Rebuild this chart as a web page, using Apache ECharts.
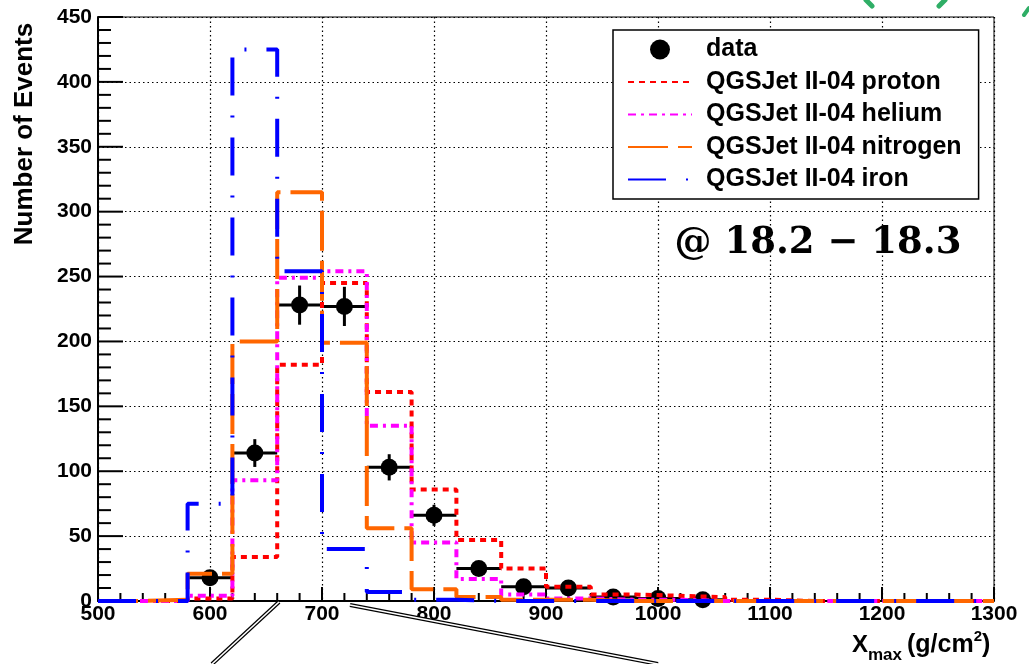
<!DOCTYPE html>
<html><head><meta charset="utf-8">
<script src="https://cdn.jsdelivr.net/npm/echarts@6/dist/echarts.min.js"></script>
<style>html,body{margin:0;padding:0;background:#fff}#c{width:1029px;height:664px}</style>
</head><body><div id="c"></div>
<script>
// bin lower edges (width 40 g/cm^2), last edge 1300
const binLow = [500,540,580,620,660,700,740,780,820,860,900,940,980,1020,1060,1100,1140,1180,1220,1260];
const binHigh = 1300;
const proton   = [0,0,2,34,182,245,161,86,47,25,11,5,4,3,1,0,0,0,0,0];
const helium   = [0,0,4,93,249,254,135,45,17,5,2,1,1,0,0,0,0,0,0,0];
const nitrogen = [0,1,21,200,315,199,56,9,3,1,1,0,0,0,0,0,0,0,0,0];
const iron     = [0,0,75,425,254,40,7,1,0,0,0,0,0,0,0,0,0,0,0,0];
const dataX   = [600,640,680,720,760,800,840,880,920,960,1000,1040];
const dataY   = [18,114,228,227,103,66,25,11,10,3,2,1];
const dataErr = [4.2,10.7,15.1,15.1,10.1,8.1,5,3.3,3.2,1.7,1.4,1];
const binHalf = 20;
const names = ['data','QGSJet II-04 proton','QGSJet II-04 helium','QGSJet II-04 nitrogen','QGSJet II-04 iron'];
// axis tick values
const xMajor = [500,600,700,800,900,1000,1100,1200,1300];
const yMajor = [0,50,100,150,200,250,300,350,400,450];
const xMinorStep = 20, yMinorStep = 10;

const FONT = "'Liberation Sans', Arial, Helvetica, sans-serif";
function hist(vals){
  const d = binLow.map((x,i)=>[x, vals[i]]);
  d.push([binHigh, vals[vals.length-1]]);
  return d;
}
function histSeries(name, vals, color, dash){
  return {name, type:'line', step:'end', data:hist(vals), symbol:'none', showSymbol:false,
    z:3, lineStyle:{color, width:4, type:dash}, itemStyle:{color}};
}
// tick list: [xValue, yValue, isMajor, isXAxis]
const tickData = [];
for (let v = xMajor[0]; v <= xMajor[xMajor.length-1]; v += xMinorStep) tickData.push([v, yMajor[0], xMajor.indexOf(v) >= 0 ? 1 : 0, 1]);
for (let v = yMajor[0]; v <= yMajor[yMajor.length-1]; v += yMinorStep) tickData.push([xMajor[0], v, yMajor.indexOf(v) >= 0 ? 1 : 0, 0]);

const labelFmt = v => String(v);
const mctx = document.createElement('canvas').getContext('2d');
function tw(t, size){ mctx.font = 'bold ' + size + 'px ' + FONT; return mctx.measureText(t).width; }
const tMax = 868, tParen = 907;
const wParen = tw('(g/cm', 25);
const w2 = tw('2', 15);

const chart = echarts.init(document.getElementById('c'), null, {renderer:'canvas'});
const option = {
  animation:false,
  backgroundColor:'#fff',
  grid:{left:98, right:35, top:17, bottom:63, show:true, borderColor:'#000', borderWidth:1, backgroundColor:'transparent'},
  xAxis:{type:'value', min:500, max:1300, interval:100,
    axisLine:{show:true, lineStyle:{color:'#000', width:2}},
    axisTick:{show:false},
    splitLine:{show:true, lineStyle:{color:'#000', width:1.2, type:[1.5,3]}},
    axisLabel:{fontSize:21, fontWeight:'bold', color:'#000', fontFamily:FONT, margin:3, formatter:labelFmt}},
  yAxis:{type:'value', min:0, max:450, interval:50,
    axisLine:{show:true, lineStyle:{color:'#000', width:2}},
    axisTick:{show:false},
    splitLine:{show:true, lineStyle:{color:'#000', width:1.2, type:[1.5,3]}},
    axisLabel:{fontSize:21, fontWeight:'bold', color:'#000', fontFamily:FONT, margin:6, formatter:labelFmt}},
  legend:{orient:'vertical', left:613, top:30, padding:[7,17,7,14], itemWidth:64, itemHeight:20, itemGap:7.5,
    backgroundColor:'#fff', borderColor:'#000', borderWidth:1.5, borderRadius:0,
    textStyle:{fontSize:25, fontWeight:'bold', color:'#000', fontFamily:FONT, padding:[0,0,0,9]},
    data:[{name:names[0], icon:'circle'},
          {name:names[1], itemStyle:{opacity:0}},
          {name:names[2], itemStyle:{opacity:0}},
          {name:names[3], itemStyle:{opacity:0}},
          {name:names[4], itemStyle:{opacity:0}}], z:10},
  series:[
    {name:'ticks', type:'custom', z:2,
     data:tickData,
     renderItem:function(params, api){
       const p = api.coord([api.value(0), api.value(1)]);
       const major = api.value(2), isX = api.value(3);
       let x2, y2;
       if (isX) { x2 = p[0]; y2 = p[1] - (major ? 14 : 8); }
       else { x2 = p[0] + (major ? 25 : 13); y2 = p[1]; }
       return {type:'group', children:[
         {type:'line', shape:{x1:p[0], y1:p[1], x2:x2, y2:y2}, style:{stroke:'#000', lineWidth:2}}
       ]};
     }},
    {name:'dataErr', type:'custom', z:2,
     data:dataX.map((x,i)=>[x, dataY[i], dataErr[i]]),
     renderItem:function(params, api){
       const x=api.value(0), y=api.value(1), e=api.value(2);
       const t=api.coord([x,y+e]), b=api.coord([x,Math.max(y-e,0)]);
       const l=api.coord([x-binHalf,y]), r=api.coord([x+binHalf,y]);
       return {type:'group', children:[
         {type:'line', shape:{x1:l[0],y1:l[1],x2:r[0],y2:r[1]}, style:{stroke:'#000', lineWidth:3}},
         {type:'line', shape:{x1:t[0],y1:t[1],x2:b[0],y2:b[1]}, style:{stroke:'#000', lineWidth:3}}
       ]};
     }},
    {name:names[0], type:'scatter', z:2, symbol:'circle', symbolSize:17,
     data:dataX.map((x,i)=>[x, dataY[i]]), itemStyle:{color:'#000', opacity:1}},
    histSeries(names[1], proton,   '#ff0000', [6,5]),
    histSeries(names[2], helium,   '#ff00ff', [8,5,3,5]),
    histSeries(names[3], nitrogen, '#ff6600', [40,10]),
    histSeries(names[4], iron,     '#0000ff', [38,20,2,20])
  ],
  graphic:[
    {type:'text', x:25, y:134, rotation:Math.PI/2, z:20,
     style:{text:'Number of Events', fontSize:26, fontWeight:'bold', fontFamily:FONT, fill:'#000', align:'center', verticalAlign:'middle'}},
    {type:'text', x:tMax, y:645, z:20, style:{text:'X', fontSize:24, fontWeight:'bold', fontFamily:FONT, fill:'#000', align:'right', verticalAlign:'middle'}},
    {type:'text', x:tMax, y:655, z:20, style:{text:'max', fontSize:17, fontWeight:'bold', fontFamily:FONT, fill:'#000', align:'left', verticalAlign:'middle'}},
    {type:'text', x:tParen, y:645, z:20, style:{text:'(g/cm', fontSize:25, fontWeight:'bold', fontFamily:FONT, fill:'#000', align:'left', verticalAlign:'middle'}},
    {type:'text', x:tParen+wParen, y:637, z:20, style:{text:'2', fontSize:15, fontWeight:'bold', fontFamily:FONT, fill:'#000', align:'left', verticalAlign:'middle'}},
    {type:'text', x:tParen+wParen+w2, y:645, z:20, style:{text:')', fontSize:25, fontWeight:'bold', fontFamily:FONT, fill:'#000', align:'left', verticalAlign:'middle'}},
    {type:'text', x:818, y:243, z:20, style:{text:'@ 18.2 \u2212 18.3', fontSize:37, fontWeight:'bold', fontFamily:"'DejaVu Serif', serif", fill:'#000', align:'center', verticalAlign:'middle'}},
    // double-line artefacts at bottom
    {type:'line', z:30, shape:{x1:212,y1:664,x2:279,y2:602}, style:{stroke:'#000', lineWidth:4}},
    {type:'line', z:31, shape:{x1:212,y1:664,x2:279,y2:602}, style:{stroke:'#fff', lineWidth:1.6}},
    {type:'line', z:30, shape:{x1:350,y1:605,x2:658,y2:664}, style:{stroke:'#000', lineWidth:4}},
    {type:'line', z:31, shape:{x1:350,y1:605,x2:658,y2:664}, style:{stroke:'#fff', lineWidth:1.6}},
    // partial green marks at top edge
    {type:'line', z:30, shape:{x1:866,y1:0,x2:872,y2:6}, style:{stroke:'#2fae66', lineWidth:5, lineCap:'round'}},
    {type:'line', z:30, shape:{x1:945,y1:0,x2:939,y2:6}, style:{stroke:'#2fae66', lineWidth:5, lineCap:'round'}},
    {type:'line', z:30, shape:{x1:1029,y1:8,x2:1024,y2:15}, style:{stroke:'#2fae66', lineWidth:4, lineCap:'round'}}
  ]
};
chart.setOption(option);
</script></body></html>
